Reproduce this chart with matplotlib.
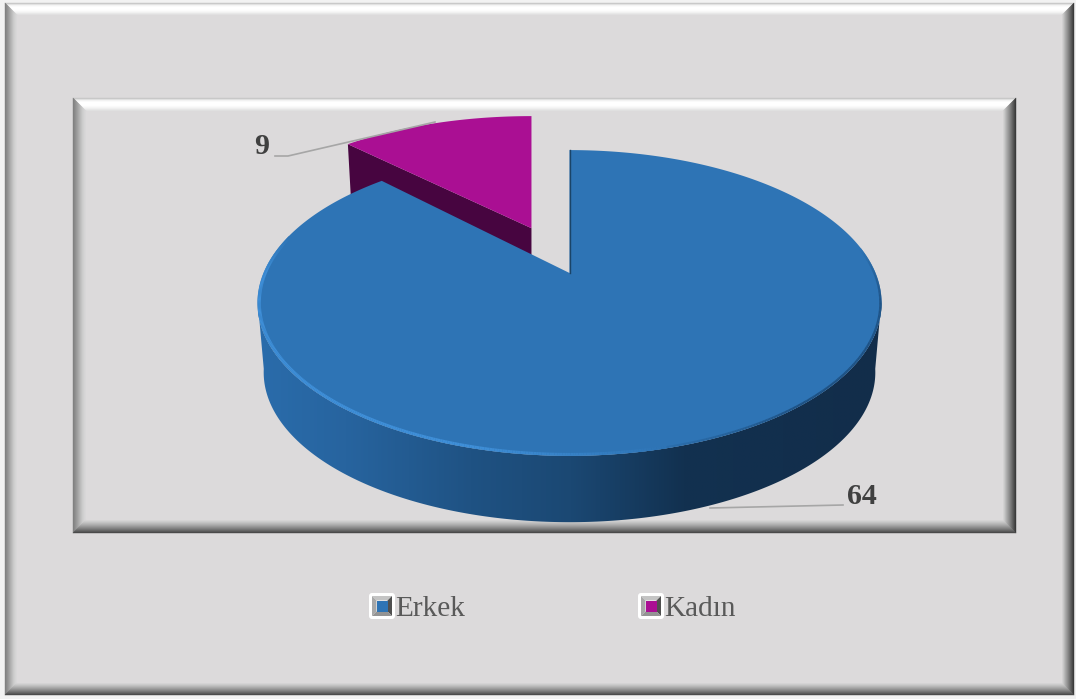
import numpy as np
import matplotlib
matplotlib.use("Agg")
import matplotlib.pyplot as plt
from matplotlib.collections import PolyCollection, LineCollection
from matplotlib.colors import LinearSegmentedColormap, to_rgb
from matplotlib.patches import Polygon, FancyBboxPatch, Rectangle

# ---- data ----
categories = ["Erkek", "Kadın"]
values = [64, 9]
top_colors = ["#2e74b5", "#aa0f93"]
side_colors = ["#123150", "#470540"]
explode = [0.0, 0.35]

W, H = 1076, 699
BG = "#dcdadb"
plt.rcParams["font.family"] = ["Liberation Serif", "DejaVu Serif"]

fig = plt.figure(figsize=(W / 100, H / 100), dpi=100, facecolor="#f2f2f2")
ax = fig.add_axes([0, 0, 1, 1])
ax.set_xlim(0, W)
ax.set_ylim(H, 0)
ax.axis("off")


def mix(c1, c2, t):
    a, b = np.array(to_rgb(c1)), np.array(to_rgb(c2))
    return tuple(a + (b - a) * t)


def bevel(x0, y0, x1, y1, bw, c_top, c_left, c_right, c_bottom, z=1, inner=BG):
    """Picture-frame bevel: four sides, each shaded from its edge to the face."""
    ax.add_patch(Rectangle((x0, y0), x1 - x0, y1 - y0, fc=inner, ec="none", zorder=z))
    for stops, kind in ((c_top, "t"), (c_left, "l"), (c_right, "r"), (c_bottom, "b")):
        n = bw
        polys, cols = [], []
        for i in range(n):
            a, b = i, i + 1
            if kind == "t":
                p = [(x0 + a, y0 + a), (x1 - a, y0 + a), (x1 - b, y0 + b), (x0 + b, y0 + b)]
            elif kind == "b":
                p = [(x0 + a, y1 - a), (x1 - a, y1 - a), (x1 - b, y1 - b), (x0 + b, y1 - b)]
            elif kind == "l":
                p = [(x0 + a, y0 + a), (x0 + a, y1 - a), (x0 + b, y1 - b), (x0 + b, y0 + b)]
            else:
                p = [(x1 - a, y0 + a), (x1 - a, y1 - a), (x1 - b, y1 - b), (x1 - b, y0 + b)]
            s = i / max(n - 1, 1) * (len(stops) - 1)
            k = min(int(s), len(stops) - 2)
            polys.append(p)
            cols.append(mix(stops[k], stops[k + 1], s - k))
        ax.add_collection(PolyCollection(polys, facecolors=cols, edgecolors=cols,
                                         linewidths=0.3, zorder=z + 1))


top_st = ["#c4c4c4", "#f0f0f0", "#ffffff", "#ffffff", "#ffffff", "#f6f6f6", "#e8e8e8", BG]
left_st = ["#808080", "#909090", "#a2a2a2", "#b6b6b6", "#c8c8c8", "#d4d4d4", BG]
right_st = ["#383838", "#555555", "#727272", "#8e8e8e", "#a8a8a8", "#c4c4c4", BG]
bot_st = ["#484848", "#666666", "#828282", "#9c9c9c", "#b4b4b4", "#cacaca", BG]
bevel(5, 3, 1074, 695, 13, top_st, left_st, right_st, bot_st, z=1)
bevel(73, 98, 1016, 533, 14, top_st, left_st, right_st, bot_st, z=3)

# ---- projected 3-D pie ----
CX, CY = 569.5, 273.0
A, B, K = 147.0, 306.0, -0.196
DY, SC = 70.0, 0.98
WIDEN, FLATTEN = 1.04, 0.97


def project(theta, r=1.0, lower=False):
    """theta in radians, clockwise from the back of the disc."""
    u = r * np.sin(theta)
    v = -r * np.cos(theta)
    d = 1 + K * v
    x, y = B * u / d, A * v / d
    if lower:
        return SC * x, DY + SC * y
    return x, y


total = sum(values)
angles = np.cumsum([0] + values) / total * 2 * np.pi
# draw the slices from the last (back) to the first (front)
for i in range(len(values) - 1, -1, -1):
    a0, a1 = angles[i], angles[i + 1]
    mid = (a0 + a1) / 2
    su, sv = explode[i] * np.sin(mid), -explode[i] * np.cos(mid)
    d = 1 + K * sv
    ox, oy = CX + B * su / d, CY + A * sv / d   # slice apex on screen
    sy = (FLATTEN if explode[i] else 1.0) / d    # further back means smaller
    sx = (WIDEN if explode[i] else 1.0) / d
    th = np.linspace(a0, a1, 1500)
    tx, ty = project(th)
    lx, ly = project(th, lower=True)
    lax, lay = project(0.0, 0.0, lower=True)
    tx, ty, lx, ly, lax, lay = ox + sx * tx, oy + sy * ty, ox + sx * lx, oy + sy * ly, ox + sx * lax, oy + sy * lay
    if i == 1:
        z = 8
        # cut-face of the exploded slice; the front slice hides the rest of it
        ax.add_patch(Polygon(list(zip(np.r_[ox, tx[:1], lx[:1], lax], np.r_[oy, ty[:1], ly[:1], lay])),
                             fc=side_colors[i], ec="none", zorder=z))
        ax.add_patch(Polygon(list(zip(np.r_[ox, tx], np.r_[oy, ty])),
                             fc=top_colors[i], ec="none", zorder=z + 1))
    else:
        z = 12
        # silhouette of the visible wall with a left-to-right gradient
        tw = np.radians(np.linspace(100, 260, 800))
        ux, uy = project(tw)
        wx, wy = project(tw, lower=True)
        wall = Polygon(list(zip(np.r_[CX + wx, CX + ux[::-1]], np.r_[CY + wy, CY + uy[::-1]])),
                       fc="none", ec="none")
        ax.add_patch(wall)
        cmap = LinearSegmentedColormap.from_list("wall", [
            (0.00, "#2a6cab"), (0.14, "#27649f"), (0.34, "#1f5283"),
            (0.50, "#1b4873"), (0.68, "#123150"), (1.00, "#122d4a")])
        im = ax.imshow(np.linspace(0, 1, 512)[None, :], extent=(258, 884, 540, 290),
                       cmap=cmap, aspect="auto", zorder=z, interpolation="bilinear")
        im.set_clip_path(wall)
        ax.set_xlim(0, W)
        ax.set_ylim(H, 0)
        top_face = Polygon(list(zip(np.r_[ox, tx], np.r_[oy, ty])),
                           fc=top_colors[i], ec="none", zorder=z + 1)
        ax.add_patch(top_face)
        # thin dark cut edge at the twelve-o'clock side
        ax.plot([tx[0], ox], [ty[0], oy], color="#1a4468", lw=1.0, zorder=z + 2)
        # soft dark shading on the right rim, fading out at both ends
        dk = np.radians(np.linspace(80, 170, 300))
        dx, dy = project(dk, 0.998)
        pts = np.column_stack([CX + dx, CY + dy])
        segs = np.stack([pts[:-1], pts[1:]], axis=1)
        deg = np.degrees(dk[:-1])
        fade = np.clip(np.minimum((deg - 80) / 20, (170 - deg) / 30), 0, 1)
        cols = [mix(top_colors[i], "#1d4f80", f) for f in fade]
        rim_dark = LineCollection(segs, colors=cols, linewidths=2.4, zorder=z + 2)
        ax.add_collection(rim_dark)
        rim_dark.set_clip_path(top_face)
        # light bevel highlight on the left and front rim
        hl = np.radians(np.linspace(165, 285, 300))
        hx, hy = project(hl, 0.995)
        pts = np.column_stack([CX + hx, CY + hy])
        segs = np.stack([pts[:-1], pts[1:]], axis=1)
        deg = np.degrees(hl[:-1])
        fade = np.clip(np.minimum((deg - 165) / 30, (285 - deg) / 15), 0, 1)
        cols = [mix(top_colors[i], "#3f8fd8", f) for f in fade]
        rim_light = LineCollection(segs, colors=cols, linewidths=2.6, zorder=z + 2)
        ax.add_collection(rim_light)
        rim_light.set_clip_path(top_face)

# ---- leader lines and data labels ----
ax.plot([843, 710], [505, 508], color="#a6a6a6", lw=1.2, zorder=20)
ax.plot([275, 288, 435], [156, 156, 122], color="#a6a6a6", lw=1.2, zorder=20)
ax.text(862, 496, str(values[0]), ha="center", va="center", fontsize=21.5, fontweight="bold",
        color="#404040", zorder=21)
ax.text(262, 146, str(values[1]), ha="center", va="center", fontsize=21.5, fontweight="bold",
        color="#404040", zorder=21)


# ---- legend ----
def swatch(x, y, color):
    ax.add_patch(FancyBboxPatch((x + 2, y + 2), 22, 22, boxstyle="round,pad=2,rounding_size=3",
                                fc="white", ec="none", zorder=22))
    x0, y0, x1, y1 = x + 3, y + 3, x + 23, y + 23
    i0, j0, i1, j1 = x0 + 4.5, y0 + 4.5, x1 - 4.5, y1 - 4.5
    ax.add_patch(Polygon([(x0, y0), (x1, y0), (i1, j0), (i0, j0)], fc="#c4c4c4", ec="none", zorder=23))
    ax.add_patch(Polygon([(x0, y0), (x0, y1), (i0, j1), (i0, j0)], fc="#a8a8a8", ec="none", zorder=23))
    ax.add_patch(Polygon([(x1, y0), (x1, y1), (i1, j1), (i1, j0)], fc="#505050", ec="none", zorder=23))
    ax.add_patch(Polygon([(x0, y1), (x1, y1), (i1, j1), (i0, j1)], fc="#949494", ec="none", zorder=23))
    ax.add_patch(Rectangle((i0, j0), i1 - i0, j1 - j0, fc=color, ec="none", zorder=24))


legend_pos = [(369, 395.5), (638, 664.5)]
for name, col, (sx_, tx_) in zip(categories, top_colors, legend_pos):
    swatch(sx_, 593, col)
    ax.text(tx_, 616, name, ha="left", va="baseline", fontsize=21.2, color="#595959", zorder=25)

fig.savefig("out.png", dpi=100, facecolor=fig.get_facecolor())
